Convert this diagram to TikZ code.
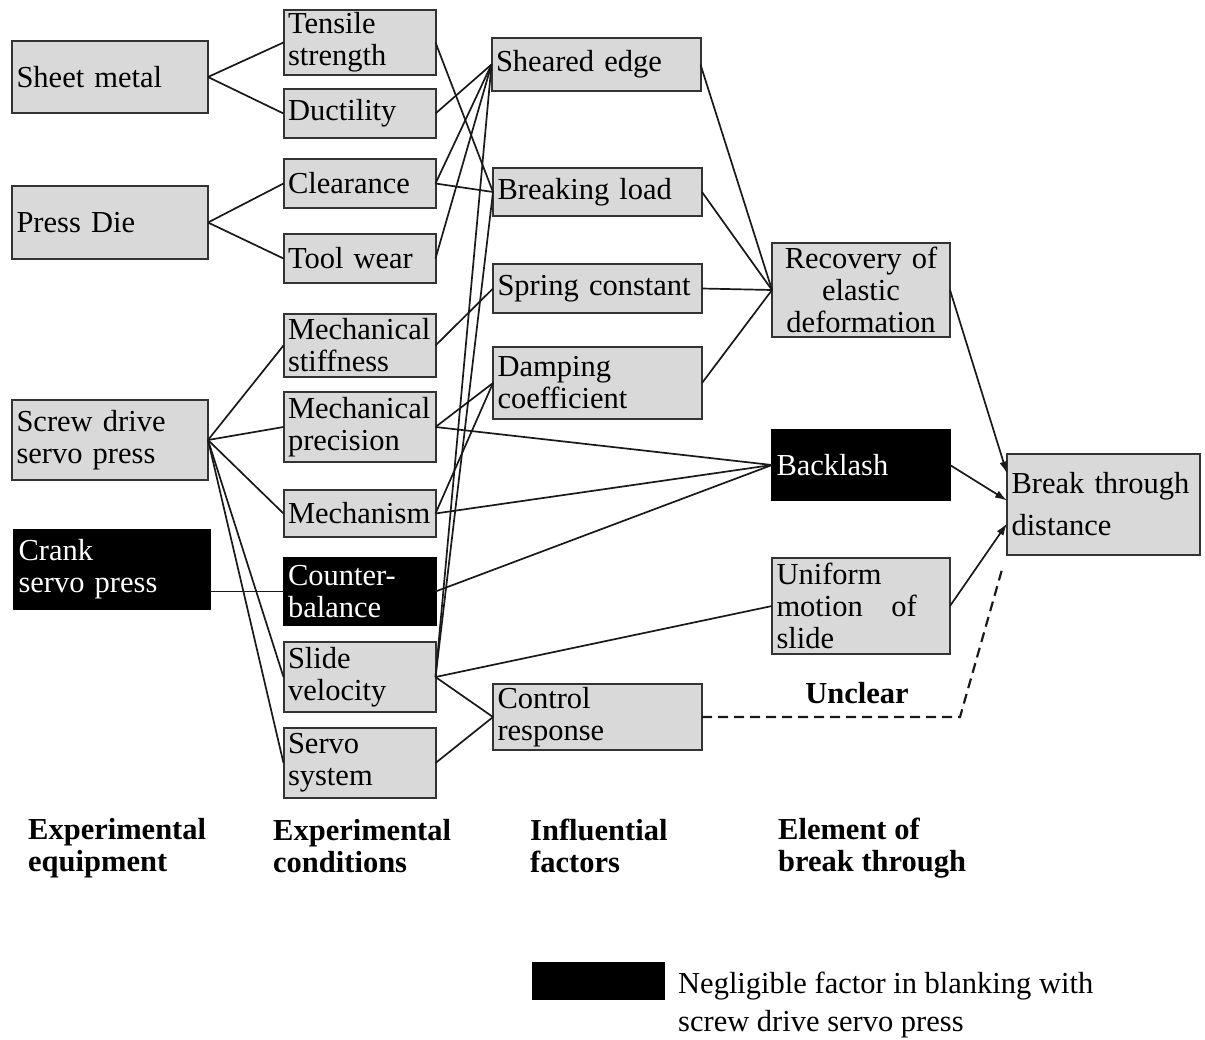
\documentclass[tikz,border=0pt]{standalone}
\usepackage{fontspec}
\setmainfont{Liberation Serif}
\usetikzlibrary{calc,arrows.meta}
\definecolor{boxgray}{HTML}{D9D9D9}
\definecolor{edgegray}{HTML}{333333}
\newcommand{\diagfont}{\fontsize{30.5}{32}\selectfont}
\tikzset{
  gbox/.style={draw=edgegray, line width=2pt, fill=boxgray, inner xsep=4.5pt,
    inner ysep=1pt, outer sep=0pt, align=left, font=\diagfont},
  bbox/.style={gbox, draw=black, fill=black, text=white},
  colA/.style={text width=187pt},
  colB/.style={text width=143pt},
  colC/.style={text width=200pt},
  colD/.style={text width=169pt},
  colE/.style={text width=184pt},
  link/.style={line width=1.7pt, draw=black!90},
  arrowlink/.style={link, -{Latex[length=12pt,width=8pt]}},
  title/.style={font=\diagfont\bfseries, align=left, anchor=base west, inner sep=0pt}
}
\begin{document}
\begin{tikzpicture}[x=1pt,y=-1pt]
\useasboundingbox (0,0) rectangle (1205,1039);

% experimental equipment
\node[gbox,colA,minimum height=72pt] (sheet) at (110,77) {Sheet metal};
\node[gbox,colA,minimum height=73pt] (die) at (110,222.5) {Press Die};
\node[gbox,colA,minimum height=80pt] (screw) at (110,440) {Screw drive\\servo press};
\node[bbox,colA,minimum height=79pt] (crank) at (112,569.5) {Crank\\servo press};

% experimental conditions
\node[gbox,colB,minimum height=65pt] (tensile) at (359.5,42.5) {Tensile\\strength};
\node[gbox,colB,minimum height=49pt] (ductility) at (359.5,113.5) {Ductility};
\node[gbox,colB,minimum height=49pt] (clearance) at (359.5,183.5) {Clearance};
\node[gbox,colB,minimum height=49pt] (toolwear) at (359.5,258.5) {Tool wear};
\node[gbox,colB,minimum height=63pt] (stiffness) at (359.5,345.5) {Mechanical\\stiffness};
\node[gbox,colB,minimum height=70pt] (precision) at (359.5,427) {Mechanical\\precision};
\node[gbox,colB,minimum height=47pt] (mechanism) at (359.5,513.5) {Mechanism};
\node[bbox,colB,minimum height=67pt] (counter) at (359.5,591.5) {Counter-\\balance};
\node[gbox,colB,minimum height=70pt] (slidevel) at (359.5,677) {Slide\\velocity};
\node[gbox,colB,minimum height=70pt] (servo) at (359.5,763) {Servo\\system};

% influential factors
\node[gbox,colC,minimum height=53pt] (sheared) at (596,64.5) {Sheared edge};
\node[gbox,colC,minimum height=48pt] (breaking) at (597.5,192) {Breaking load};
\node[gbox,colC,minimum height=49pt] (spring) at (597.5,288.5) {Spring constant};
\node[gbox,colC,minimum height=72pt] (damping) at (597.5,383) {Damping\\coefficient};
\node[gbox,colC,minimum height=66pt] (control) at (597.5,717) {Control\\response};

% elements of break through
\node[gbox,colD,minimum height=94pt,align=center] (recovery) at (861,290) {Recovery of\\elastic\\deformation};
\node[bbox,colD,minimum height=70pt] (backlash) at (861,465) {Backlash};
\node[gbox,colD,minimum height=96pt] (uniform) at (861,606) {Uniform\\motion\hspace{0.6em} of\\slide};

% result
\node[gbox,colE,minimum height=101pt] (bt) at (1103.5,504.5) {Break through\\[10pt]distance};

% equipment -> conditions
\draw[link] (sheet.east) -- (tensile.west);
\draw[link] (sheet.east) -- (ductility.west);
\draw[link] (die.east) -- (clearance.west);
\draw[link] (die.east) -- (toolwear.west);
\draw[link] (screw.east) -- (stiffness.west);
\draw[link] (screw.east) -- (precision.west);
\draw[link] (screw.east) -- (mechanism.west);
\draw[link] (screw.east) -- (slidevel.west);
\draw[link] (screw.east) -- (servo.west);
\draw[link] (counter.west -| crank.east) -- (counter.west);

% conditions -> factors
\draw[link] (tensile.east) -- (breaking.west);
\draw[link] (ductility.east) -- (sheared.west);
\draw[link] (clearance.east) -- (sheared.west);
\draw[link] (clearance.east) -- (breaking.west);
\draw[link] (toolwear.east) -- (sheared.west);
\draw[link] (stiffness.east) -- (spring.west);
\draw[link] (precision.east) -- (damping.west);
\draw[link] (mechanism.east) -- (damping.west);
\draw[link] (slidevel.east) -- (sheared.west);
\draw[link] (slidevel.east) -- (breaking.west);
\draw[link] (slidevel.east) -- (control.west);
\draw[link] (servo.east) -- (control.west);

% conditions -> elements
\draw[link] (precision.east) -- (backlash.west);
\draw[link] (mechanism.east) -- (backlash.west);
\draw[link] (counter.east) -- (backlash.west);
\draw[link] (slidevel.east) -- (uniform.west);

% factors -> recovery
\draw[link] (sheared.east) -- (recovery.west);
\draw[link] (breaking.east) -- (recovery.west);
\draw[link] (spring.east) -- (recovery.west);
\draw[link] (damping.east) -- (recovery.west);

% elements -> break through distance
\draw[arrowlink] (recovery.east) -- ($(bt.west)+(0,-31)$);
\draw[arrowlink] (backlash.east) -- ($(bt.west)+(0,-4)$);
\draw[arrowlink] (uniform.east) -- ($(bt.west)+(0,19)$);

% unclear relation
\coordinate (bend) at (960,717);
\coordinate (dashend) at (1003,566);
\draw[link,line width=2.2pt,dash pattern=on 10pt off 6pt] (control.east) -- (bend) -- (dashend);
\node[font=\diagfont\bfseries, inner sep=0pt] (unclear) at (857,693) {Unclear};

% column titles
\node[title] (tA) at (28,871) {Experimental\\equipment};
\node[title] (tB) at (273,872) {Experimental\\conditions};
\node[title] (tC) at (530,872) {Influential\\factors};
\node[title] (tD) at (778,871) {Element of\\break through};

% legend
\node[fill=black, minimum width=133pt, minimum height=38pt, inner sep=0pt] (key) at (598.5,981) {};
\node[font=\diagfont, align=left, anchor=base west, inner sep=0pt] (keytext) at (678,1031)
  {Negligible factor in blanking with\\[6pt]screw drive servo press};
\end{tikzpicture}
\end{document}
